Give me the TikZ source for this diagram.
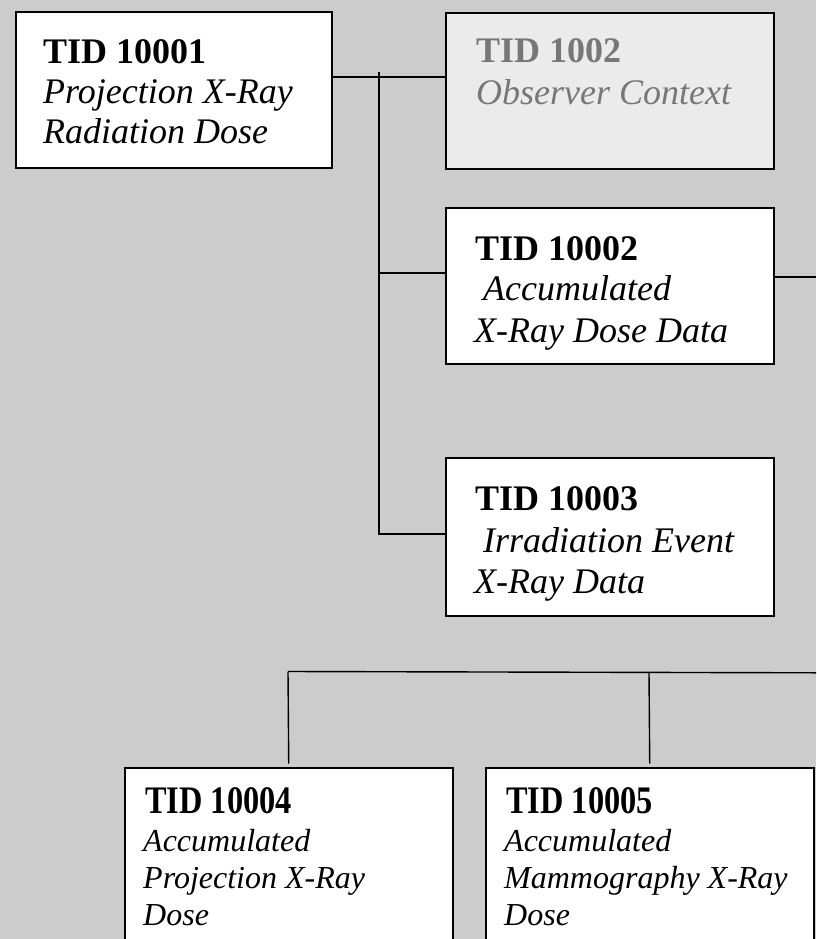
\documentclass[tikz,border=0pt]{standalone}
\usepackage{fontspec}
\setmainfont{Liberation Serif}
\newfontfamily\tightbold[FakeStretch=0.83]{Liberation Serif}
\definecolor{bg}{HTML}{CCCCCC}
\definecolor{ghostfill}{HTML}{EBEBEB}
\definecolor{ghosttext}{HTML}{777777}
\begin{document}
\begin{tikzpicture}[x=1pt,y=-1pt,
  box/.style={draw=black, line width=2pt, fill=white, inner sep=0pt, anchor=north west},
  ghostbox/.style={box, fill=ghostfill, line width=2.4pt},
  lowbox/.style={box, line width=1.5pt},
  conn/.style={draw=black, line width=2pt},
  thinconn/.style={draw=black, line width=1.4pt},
  ttl/.style={anchor=base west, inner sep=0pt, font=\fontsize{36}{40}\selectfont\bfseries},
  sub/.style={anchor=base west, inner sep=0pt, font=\fontsize{36}{40}\selectfont\itshape},
  lttl/.style={anchor=base west, inner sep=0pt, font=\tightbold\fontsize{39}{37}\selectfont\bfseries},
  lsub/.style={anchor=base west, inner sep=0pt, font=\fontsize{32}{37}\selectfont\itshape}]
\useasboundingbox (0,0) rectangle (816,939);
\clip (0,0) rectangle (816,939);
\fill[bg] (0,0) rectangle (816,939);

% boxes
\node[box, minimum width=316pt, minimum height=156pt] (b1) at (15,11) {};
\node[ghostbox, minimum width=328pt, minimum height=156pt] (b2) at (445,12) {};
\node[box, minimum width=328pt, minimum height=156pt] (b3) at (445,207) {};
\node[box, minimum width=328pt, minimum height=158pt] (b4) at (445,457) {};
\node[lowbox, minimum width=328pt, minimum height=260pt] (b5) at (124,767) {};
\node[lowbox, minimum width=328pt, minimum height=260pt] (b6) at (485,767) {};

% texts
\node[ttl] (t1a) at (43,64) {TID 10001};
\node[sub] (t1b) at (43,103) {Projection X-Ray};
\node[sub] (t1c) at (43,143) {Radiation Dose};

\node[ttl, text=ghosttext] (t2a) at (476,63) {TID 1002};
\node[sub, text=ghosttext] (t2b) at (476,105) {Observer Context};

\node[ttl] (t3a) at (475,260) {TID 10002};
\node[sub] (t3b) at (483,300) {Accumulated};
\node[sub] (t3c) at (474,342) {X-Ray Dose Data};

\node[ttl] (t4a) at (475,510) {TID 10003};
\node[sub] (t4b) at (483,552) {Irradiation Event};
\node[sub] (t4c) at (474,593) {X-Ray Data};

\node[lttl] (t5a) at (145,813) {TID 10004};
\node[lsub] (t5b) at (143,851) {Accumulated};
\node[lsub] (t5c) at (143,888) {Projection X-Ray};
\node[lsub] (t5d) at (143,925) {Dose};

\node[lttl] (t6a) at (506,813) {TID 10005};
\node[lsub] (t6b) at (504,851) {Accumulated};
\node[lsub] (t6c) at (504,888) {Mammography X-Ray};
\node[lsub] (t6d) at (504,925) {Dose};

% connectors
\coordinate (ja) at (379,77);
\coordinate (jtop) at (379,72);
\coordinate (jb) at (379,273);
\coordinate (jbot) at (379,534);
\draw[conn] (b1.east |- ja) -- (b2.west |- ja);
\draw[conn] (jtop) -- (jbot) -- (b4.west |- jbot);
\draw[conn] (jb) -- (b3.west |- jb);
\coordinate (redge) at (816,277);
\draw[conn] (b3.east |- redge) -- (redge);

\coordinate (bl) at (288,671.5);
\coordinate (bm) at (649,672.3);
\coordinate (br) at (816,672.8);
\draw[thinconn] (bl) -- (br);
\draw[thinconn, shorten >=3.5pt] (bl) -- (b5.north);
\draw[thinconn, shorten >=3.5pt] (bm) -- (b6.north);
\end{tikzpicture}
\end{document}
